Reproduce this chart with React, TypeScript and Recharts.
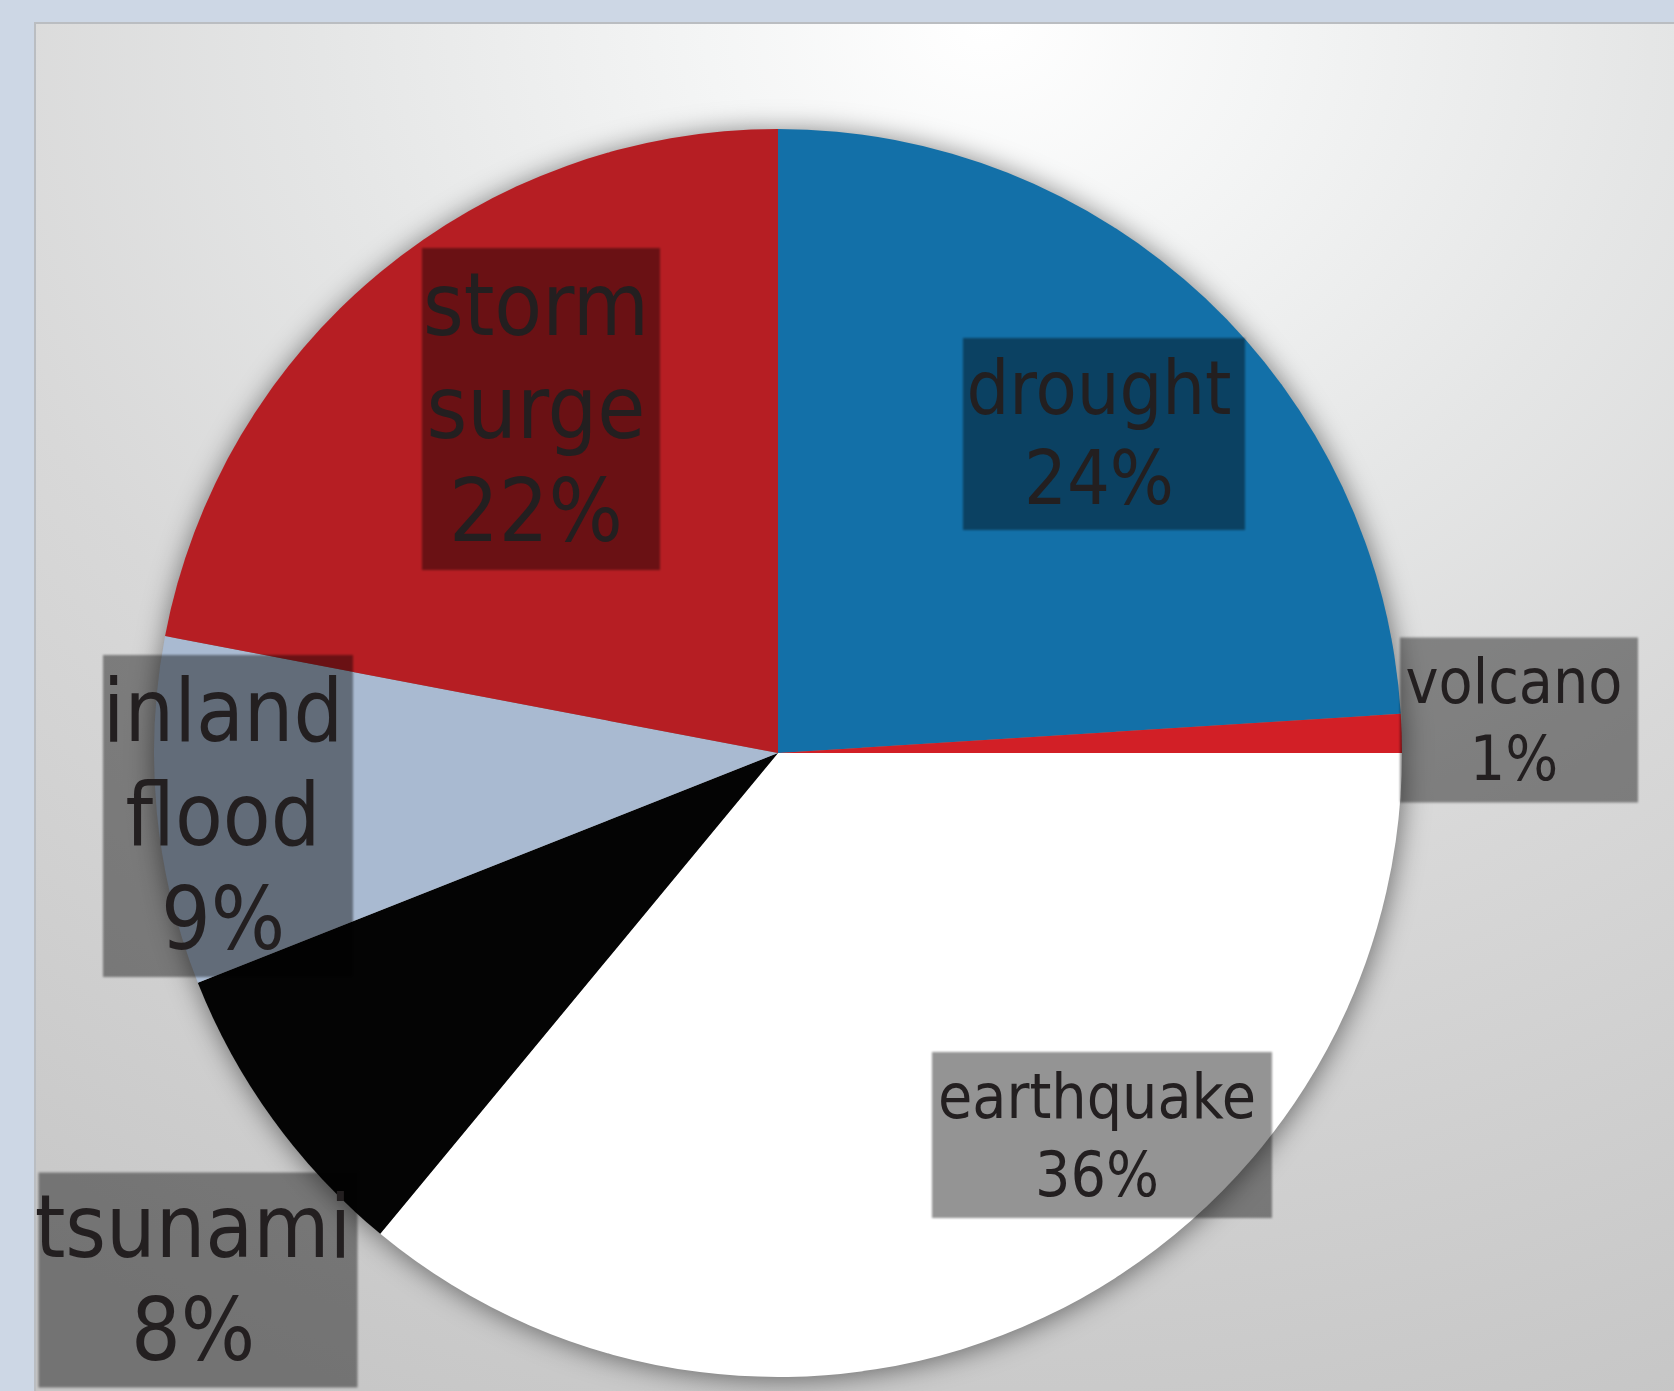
import { PieChart, Pie, Cell } from 'recharts';

const hazards = ['drought', 'volcano', 'earthquake', 'tsunami', 'inland flood', 'storm surge'];
const shares = [24, 1, 36, 8, 9, 22];
const sliceColors = ['#1370a8', '#d21f26', '#ffffff', '#040404', '#a9bad1', '#b61e23'];

const data = hazards.map((name, i) => ({ name, value: shares[i] }));

const W = 1674;
const H = 1391;
const PIE_CX = 778;
const PIE_CY = 753;
const PIE_R = 624;

// where each label box sits, as an offset from the pie centre
const labelLayout: Record<string, { dx: number; dy: number; w: number; h: number; fs: number; lh: number }> = {
  drought: { dx: 326, dy: -319, w: 282, h: 192, fs: 75, lh: 90 },
  volcano: { dx: 741, dy: -33, w: 238, h: 165, fs: 62, lh: 77 },
  earthquake: { dx: 324, dy: 382, w: 340, h: 166, fs: 62, lh: 78 },
  tsunami: { dx: -580, dy: 527, w: 319, h: 215, fs: 87, lh: 103 },
  'inland flood': { dx: -550, dy: 63, w: 250, h: 322, fs: 87, lh: 104 },
  'storm surge': { dx: -237, dy: -344, w: 238, h: 322, fs: 87, lh: 103 },
};

const FONT = "'DejaVu Sans Condensed', 'DejaVu Sans', sans-serif";

function HazardLabel(props: any) {
  const { index, percent } = props;
  const name = hazards[index];
  const box = labelLayout[name];
  const lines = [...name.split(' '), `${Math.round(percent * 100)}%`];
  const bx = PIE_CX + box.dx;
  const by = PIE_CY + box.dy;
  const top = by - box.h / 2;
  const first = top + (box.h - lines.length * box.lh) / 2 + 0.78 * box.lh;
  const tx = bx - 5;
  return (
    <g>
      <rect x={bx - box.w / 2} y={top} width={box.w} height={box.h} fill="#000" fillOpacity={0.42} filter="url(#boxSoft)" />
      <text textAnchor="middle" fontSize={box.fs} fill="#231f20" fontFamily={FONT}>
        {lines.map((l, i) => (
          <tspan key={i} x={tx} y={first + i * box.lh}>{l}</tspan>
        ))}
      </text>
    </g>
  );
}

export default function App() {
  return (
    <div style={{ position: 'relative', width: W, height: H, background: '#cdd7e5', overflow: 'hidden' }}>
      <style>{'body{margin:0} .pie-shadow{filter:url(#pieShadow)}'}</style>
      {/* plot area with the soft grey backdrop */}
      <div
        style={{
          position: 'absolute', left: 34, top: 22, right: 0, bottom: 0,
          borderTop: '2px solid #babdc1', borderLeft: '2px solid #babdc1',
          background: 'radial-gradient(ellipse 1750px 1500px at 950px 0px, #ffffff 0%, #f4f5f5 16%, #e5e6e6 38%, #d8d8d8 60%, #c6c6c6 100%)',
        }}
      />
      <div style={{ position: 'absolute', left: 0, top: 0 }}>
        <PieChart width={W} height={H} margin={{ top: 0, right: 0, bottom: 0, left: 0 }}>
          <defs>
            <filter id="pieShadow" x="-10%" y="-10%" width="120%" height="120%">
              <feGaussianBlur stdDeviation="9" />
            </filter>
            <filter id="boxSoft" x="-5%" y="-5%" width="110%" height="110%">
              <feGaussianBlur stdDeviation="1.3" />
            </filter>
          </defs>
          {/* soft shadow under the pie */}
          <Pie
            data={data}
            dataKey="value"
            nameKey="name"
            cx={PIE_CX + 1}
            cy={PIE_CY + 2}
            outerRadius={PIE_R + 2}
            startAngle={90}
            endAngle={-270}
            className="pie-shadow"
            fill="#000"
            fillOpacity={0.45}
            stroke="none"
            isAnimationActive={false}
            legendType="none"
          />
          <Pie
            data={data}
            dataKey="value"
            nameKey="name"
            cx={PIE_CX}
            cy={PIE_CY}
            outerRadius={PIE_R}
            startAngle={90}
            endAngle={-270}
            stroke="none"
            label={HazardLabel}
            labelLine={false}
            isAnimationActive={false}
          >
            {data.map((d, i) => (
              <Cell key={d.name} fill={sliceColors[i]} />
            ))}
          </Pie>
        </PieChart>
      </div>
    </div>
  );
}
